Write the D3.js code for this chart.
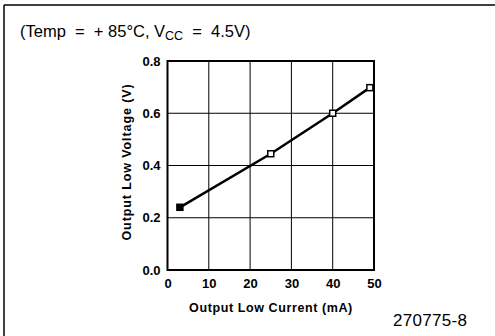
<!DOCTYPE html>
<html><head><meta charset="utf-8">
<script src="https://cdn.jsdelivr.net/npm/d3@7"></script>
<style>body{margin:0;background:#fff}svg{display:block}text{white-space:pre}</style>
</head><body>
<script>
const currents = [3, 25, 40, 49];
const voltages = [0.24, 0.445, 0.60, 0.698];
const xTicks = [0, 10, 20, 30, 40, 50];
const yTicks = [0.0, 0.2, 0.4, 0.6, 0.8];
const filled = [true, false, false, false];
const xLabel = "Output Low Current (mA)";
const yLabel = "Output Low Voltage (V)";
const figId = "270775-8";

const W = 495, H = 336;
const svg = d3.select("body").append("svg").attr("width", W).attr("height", H);
const L = 167.5, R = 374, T = 61, B = 270;
const x = d3.scaleLinear().domain([0, 50]).range([L, R]);
const y = d3.scaleLinear().domain([0, 0.8]).range([B, T]);

// outer frame (top + left)
svg.append("line").attr("x1", 4).attr("x2", W).attr("y1", 5).attr("y2", 5).attr("stroke", "#000").attr("stroke-width", 1.5);
svg.append("line").attr("x1", 4).attr("x2", 4).attr("y1", 5).attr("y2", H).attr("stroke", "#000").attr("stroke-width", 1.5);

// title
const title = svg.append("text").attr("x", 20).attr("y", 37)
  .attr("font-family", "Liberation Sans, Arial, sans-serif").attr("font-size", 16.5).attr("fill", "#000");
title.append("tspan").text("(Temp  =  + 85°C, V");
title.append("tspan").attr("font-size", 12.5).attr("dy", 3).text("CC");
title.append("tspan").attr("dy", -3).text("  =  4.5V)");

// grid
const g = svg.append("g");
g.selectAll(".vx").data(xTicks).join("line")
  .attr("x1", d => x(d)).attr("x2", d => x(d)).attr("y1", T).attr("y2", B)
  .attr("stroke", "#000").attr("stroke-width", 1);
g.selectAll(".hy").data(yTicks).join("line")
  .attr("x1", L).attr("x2", R).attr("y1", d => y(d)).attr("y2", d => y(d))
  .attr("stroke", "#000").attr("stroke-width", 1);
g.append("rect").attr("x", L).attr("y", T).attr("width", R - L).attr("height", B - T)
  .attr("fill", "none").attr("stroke", "#000").attr("stroke-width", 2);

// axes labels via d3 axes
const fontF = "Arial, Liberation Sans, sans-serif";
const xAxis = svg.append("g").attr("transform", `translate(0,${B})`)
  .call(d3.axisBottom(x).tickValues(xTicks).tickSize(0).tickPadding(9).tickFormat(d3.format("d")));
xAxis.select(".domain").remove();
xAxis.selectAll("text").attr("font-family", fontF).attr("font-weight", "bold").attr("font-size", 13).attr("fill", "#000");
const yAxis = svg.append("g").attr("transform", `translate(${L},0)`)
  .call(d3.axisLeft(y).tickValues(yTicks).tickSize(0).tickPadding(7).tickFormat(d3.format(".1f")));
yAxis.select(".domain").remove();
yAxis.selectAll("text").attr("font-family", fontF).attr("font-weight", "bold").attr("font-size", 13).attr("fill", "#000");

svg.append("text").attr("x", 271).attr("y", 312).attr("text-anchor", "middle")
  .attr("font-family", fontF).attr("font-weight", "bold").attr("font-size", 12.5).attr("letter-spacing", 0.6).text(xLabel);
svg.append("text").attr("transform", `translate(131,${162}) rotate(-90)`).attr("text-anchor", "middle")
  .attr("font-family", fontF).attr("font-weight", "bold").attr("font-size", 12.5).attr("letter-spacing", 0.9).text(yLabel);

// line + markers
const pts = currents.map((c, i) => [c, voltages[i], filled[i]]);
svg.append("path").datum(pts)
  .attr("d", d3.line().x(d => x(d[0])).y(d => y(d[1])))
  .attr("fill", "none").attr("stroke", "#000").attr("stroke-width", 2.5);
svg.selectAll(".mk").data(pts).join("rect")
  .attr("x", d => x(d[0]) - 3).attr("y", d => y(d[1]) - 3).attr("width", 6).attr("height", 6)
  .attr("fill", d => d[2] ? "#000" : "#fff").attr("stroke", "#000").attr("stroke-width", 1.5);

svg.append("text").attr("x", 393).attr("y", 326).attr("font-family", "Liberation Sans, Arial, sans-serif")
  .attr("font-size", 17).attr("letter-spacing", 0.3).text(figId);
</script>
</body></html>
